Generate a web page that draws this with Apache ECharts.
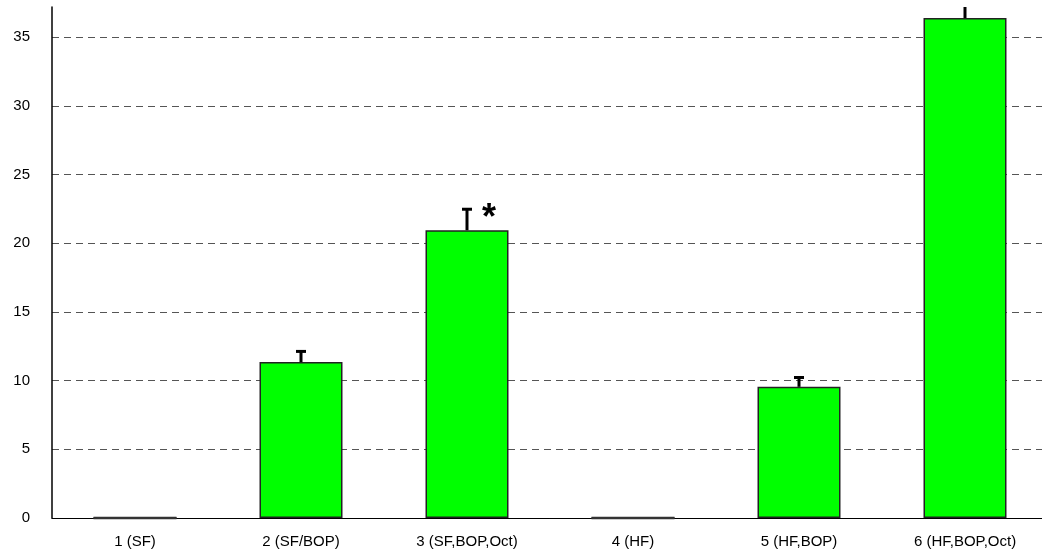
<!DOCTYPE html>
<html>
<head>
<meta charset="utf-8">
<script src="https://cdn.jsdelivr.net/npm/echarts@6/dist/echarts.min.js"></script>
<style>
  html, body { margin: 0; padding: 0; background: #fff; overflow: hidden; }
  #chart { width: 1048px; height: 555px; }
</style>
</head>
<body>
<div id="chart"></div>
<script>
// Group labels along the x axis
const categories = ['1 (SF)', '2 (SF/BOP)', '3 (SF,BOP,Oct)', '4 (HF)', '5 (HF,BOP)', '6 (HF,BOP,Oct)'];
// Group means
const means = [0, 11.35, 20.95, 0, 9.55, 36.4];
// Upper end of each error bar (mean + SE)
const errorTops = [0, 12.2, 22.55, 0, 10.3, 37.6];
// Significance markers per group
const markers = ['', '', '*', '', '', ''];
const yTicks = [0, 5, 10, 15, 20, 25, 30, 35];

const chart = echarts.init(document.getElementById('chart'));

const font = 'Liberation Sans, Arial, sans-serif';

chart.setOption({
  animation: false,
  grid: { left: 52, right: 0, top: 7, bottom: 37 },
  xAxis: {
    type: 'category',
    data: categories,
    axisLine: { lineStyle: { color: '#000', width: 1 } },
    axisTick: { show: false },
    axisLabel: { color: '#000', fontFamily: font, fontSize: 15, margin: 16 },
    splitLine: { show: false }
  },
  yAxis: {
    type: 'value',
    min: 0,
    max: 37.2,
    interval: 5,
    axisLine: { show: true, lineStyle: { color: '#000', width: 1.5 } },
    axisTick: { show: false },
    axisLabel: {
      color: '#000', fontFamily: font, fontSize: 15, margin: 22,
      showMaxLabel: false,
      formatter: v => (yTicks.includes(v) ? String(v) : '')
    },
    splitLine: {
      show: true,
      showMaxLine: false,
      showMinLine: false,
      lineStyle: { color: '#555', type: [7, 5], width: 1 }
    }
  },
  series: [
    {
      type: 'bar',
      data: means,
      barWidth: '50%',
      itemStyle: { color: '#00ff00', borderColor: '#222', borderWidth: 1.5 },
      z: 2
    },
    {
      // zero-height groups are drawn as a dark stroke on the baseline
      type: 'custom',
      data: means.map((v, i) => [i, v]),
      z: 3,
      renderItem: (params, api) => {
        if (api.value(1) !== 0) return;
        const c = api.coord([api.value(0), 0]);
        const w = api.size([1, 0])[0] * 0.5;
        return {
          type: 'line',
          shape: { x1: c[0] - w / 2, y1: c[1], x2: c[0] + w / 2, y2: c[1] },
          style: { stroke: '#333', lineWidth: 2.5 }
        };
      }
    },
    {
      // error bars with a cap, plus any significance marker
      type: 'custom',
      clip: true,
      data: means.map((v, i) => [i, v, errorTops[i]]),
      z: 4,
      renderItem: (params, api) => {
        const i = api.value(0);
        const lo = api.coord([i, api.value(1)]);
        const hi = api.coord([i, api.value(2)]);
        if (api.value(2) <= api.value(1)) return;
        const children = [
          {
            type: 'line',
            shape: { x1: lo[0], y1: lo[1], x2: hi[0], y2: hi[1] },
            style: { stroke: '#000', lineWidth: 3 }
          },
          {
            type: 'line',
            shape: { x1: hi[0] - 5, y1: hi[1] + 1, x2: hi[0] + 5, y2: hi[1] + 1 },
            style: { stroke: '#000', lineWidth: 3 }
          }
        ];
        if (markers[i]) {
          children.push({
            type: 'text',
            style: {
              x: hi[0] + 22, y: hi[1] - 7,
              text: markers[i],
              fill: '#000',
              font: 'bold 36px ' + font,
              align: 'center',
              verticalAlign: 'top'
            }
          });
        }
        return { type: 'group', children };
      }
    }
  ]
});
</script>
</body>
</html>
